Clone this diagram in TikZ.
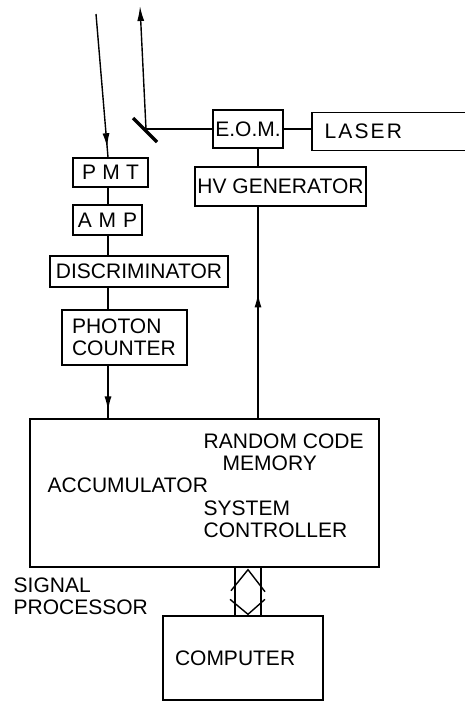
\documentclass[tikz,border=0pt]{standalone}
\usepackage{fontspec}
\setmainfont{Liberation Sans}
\usetikzlibrary{arrows.meta,calc,decorations.markings}
\begin{document}
\begin{tikzpicture}[x=1pt,y=-1pt,line width=1.4pt,
  box/.style={draw,rectangle,inner sep=0pt,font=\fontsize{21}{22}\selectfont},
  txt/.style={align=left,inner sep=0pt,font=\fontsize{21}{22}\selectfont},
  midtip/.style={postaction={decorate,decoration={markings,mark=at position #1 with {\arrow{Latex[length=14pt,width=7pt]}}}}}]
\useasboundingbox (0,0) rectangle (465,704);

\coordinate (colx) at (108,0);
\coordinate (hvx) at (258,0);
\coordinate (edge) at (465,0);
\coordinate (inb) at (96,14);
\coordinate (outb) at (140,6);
\coordinate (mir) at (146,129);
\coordinate (busl) at (235,0);
\coordinate (busr) at (261,0);
\coordinate (busm) at (248,0);

\node[box,minimum width=75pt,minimum height=29pt] (pmt) at (110.5,172.5) {\addfontfeature{LetterSpace=30}PMT};
\node[box,minimum width=69pt,minimum height=30pt] (amp) at (107.5,220) {\addfontfeature{LetterSpace=33}AMP};
\node[box,minimum width=178pt,minimum height=31pt] (disc) at (139,271.5) {DISCRIMINATOR};
\node[box,text width=105pt,inner xsep=10pt,minimum height=55pt,align=left] (pc) at (124.5,337.5) {PHOTON\\COUNTER};
\node[box,minimum width=349pt,minimum height=148pt] (sp) at (204.5,493) {};
\node[box,minimum width=70pt,minimum height=38pt] (eqm) at (248,129) {E.O.M.};
\node[box,minimum width=171pt,minimum height=39pt] (hv) at (280.5,186.5) {HV GENERATOR};
\node[box,draw=none,anchor=west,minimum height=37pt,text width=140pt,inner xsep=12pt,align=left] (laser) at (312,131.5) {\addfontfeature{LetterSpace=10}LASER};
\node[box,text width=136pt,inner xsep=12pt,minimum height=84pt,align=left] (comp) at (243,658) {COMPUTER};

\node[txt,anchor=west] (acc) at (47,485) {ACCUMULATOR};
\node[txt,anchor=north west] (rcm) at (203,433) {RANDOM CODE\\\hspace*{19pt}MEMORY};
\node[txt,anchor=north west] (sysc) at (203,500) {SYSTEM\\CONTROLLER};
\node[txt,anchor=north west] (splbl) at (13,577) {SIGNAL\\PROCESSOR};

\draw (laser.north west -| edge) -- (laser.north west) -- (laser.south west) -- (laser.south west -| edge);

\draw[midtip=0.93] (inb) -- (pmt.north -| colx);
\draw[-{Latex[length=15pt,width=7pt]}] (mir) -- (outb);
\draw[line width=3.5pt] (mir) ++(-13,-11) -- ++(24,24);
\draw (mir) -- (eqm.west);
\draw (eqm.east) -- (eqm.east -| laser.west);
\draw (eqm.south -| hvx) -- (hv.north -| hvx);
\draw[midtip=0.59] (sp.north -| hvx) -- (hv.south -| hvx);

\draw (pmt.south -| colx) -- (amp.north -| colx);
\draw (amp.south -| colx) -- (disc.north -| colx);
\draw (disc.south -| colx) -- (pc.north -| colx);
\draw[midtip=0.85] (pc.south -| colx) -- (sp.north -| colx);

\draw (sp.south -| busl) -- (comp.north -| busl);
\draw (sp.south -| busr) -- (comp.north -| busr);
\draw ($(sp.south -| busm)+(-17,23)$) -- ++(17,-21) -- ++(17,22);
\draw ($(comp.north -| busm)+(-18,-16)$) -- ++(18,15) -- ++(17,-15);
\end{tikzpicture}
\end{document}
